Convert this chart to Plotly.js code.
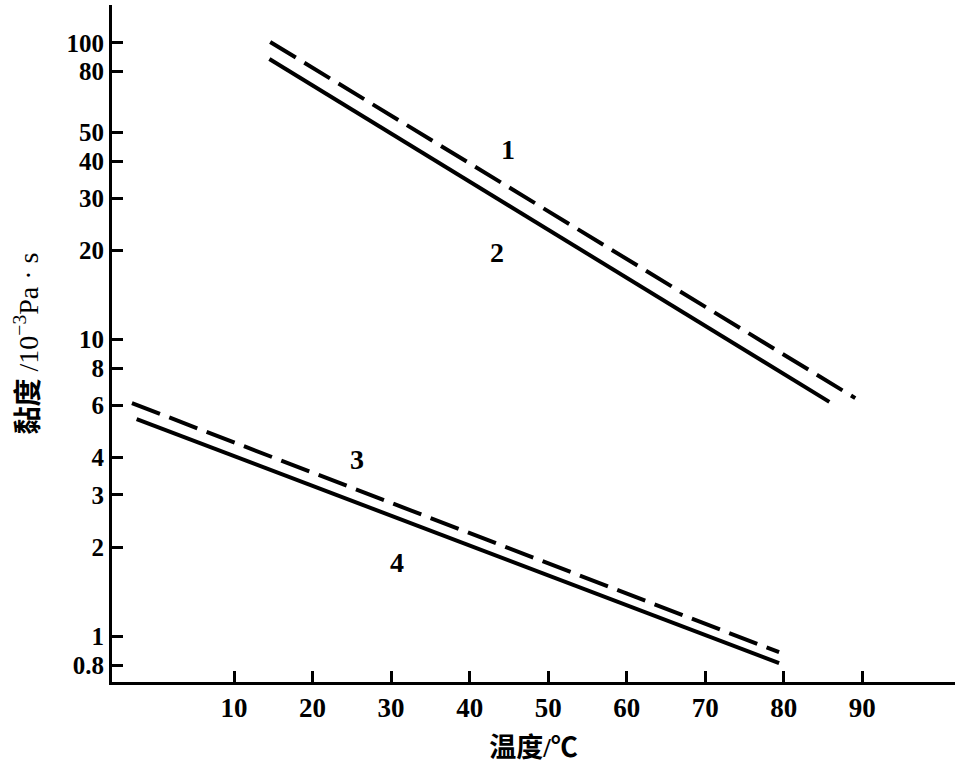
<!DOCTYPE html>
<html>
<head>
<meta charset="utf-8">
<script src="https://cdn.plot.ly/plotly-3.0.1.min.js"></script>
<style>html,body{margin:0;padding:0;background:#fff;}#chart{width:962px;height:774px;}</style>
</head>
<body>
<div id="chart"></div>
<script>
// Temperature (°C) and viscosity (10^-3 Pa·s)
const line1X = [14.6, 89.1];
const line1Y = [100.8, 6.35];
const line2X = [14.5, 85.8];
const line2Y = [88.3, 6.17];
const line3X = [-3.0, 79.4];
const line3Y = [6.11, 0.884];
const line4X = [-2.4, 79.4];
const line4Y = [5.40, 0.812];
const lineLabels = ["1", "2", "3", "4"];
const labelX = [44.9, 43.5, 25.7, 30.8];
const labelY = [43.6, 19.6, 3.93, 1.78];
const xTicks = [10, 20, 30, 40, 50, 60, 70, 80, 90];
const yTicks = [0.8, 1, 2, 3, 4, 6, 8, 10, 20, 30, 40, 50, 80, 100];
const yTickText = ["0.8", "1", "2", "3", "4", "6", "8", "10", "20", "30", "40", "50", "80", "100"];

const serif = "Liberation Serif, Times New Roman, serif";
const mixed = "Liberation Serif, Noto Sans CJK SC, serif";

const dashed = {color: "#000", width: 4, dash: "30px,10px"};
const solid = {color: "#000", width: 4};

const traces = [
  {x: line1X, y: line1Y, mode: "lines", line: dashed, name: "1"},
  {x: line2X, y: line2Y, mode: "lines", line: solid, name: "2"},
  {x: line3X, y: line3Y, mode: "lines", line: dashed, name: "3"},
  {x: line4X, y: line4Y, mode: "lines", line: solid, name: "4"}
];

const annotations = lineLabels.map((t, i) => ({
  x: labelX[i], y: Math.log10(labelY[i]), xref: "x", yref: "y",
  text: "<b>" + t + "</b>", showarrow: false, font: {family: serif, size: 28, color: "#000"}
}));

const layout = {
  width: 962, height: 774,
  margin: {l: 112, r: 7, t: 5, b: 92},
  paper_bgcolor: "#fff", plot_bgcolor: "#fff",
  showlegend: false,
  xaxis: {
    range: [-5.54, 101.8],
    tickvals: xTicks, ticktext: xTicks.map(v => "<b>" + v + "</b>"),
    ticks: "inside", ticklen: 11, tickwidth: 3, tickcolor: "#000",
    showline: true, linewidth: 3, linecolor: "#000",
    showgrid: false, zeroline: false,
    tickfont: {family: serif, size: 27, color: "#000"},
    title: {text: "<b>温度/℃</b>", font: {family: mixed, size: 27, color: "#000"}, standoff: 16}
  },
  yaxis: {
    type: "log",
    range: [-0.154, 2.128],
    tickvals: yTicks, ticktext: yTickText.map(v => "<b>" + v + "</b>"),
    ticks: "inside", ticklen: 11, tickwidth: 3, tickcolor: "#000",
    showline: true, linewidth: 3, linecolor: "#000",
    showgrid: false, zeroline: false,
    tickfont: {family: serif, size: 25, color: "#000"},
    title: {text: "<b>黏度</b> /10<sup>−3</sup>Pa · s", font: {family: mixed, size: 28, color: "#000"}, standoff: 20}
  },
  annotations: annotations
};

Plotly.newPlot("chart", traces, layout, {displayModeBar: false, staticPlot: true});
</script>
</body>
</html>
